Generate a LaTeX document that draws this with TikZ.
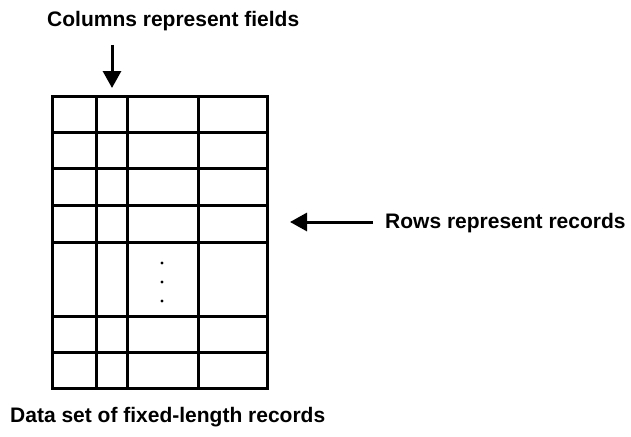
\documentclass[tikz,border=0pt]{standalone}
\usepackage{fontspec}
\setmainfont{Liberation Sans}
\usetikzlibrary{arrows.meta}

\tikzset{
  grid line/.style={line width=3pt},
  pointer/.style={line width=3pt, -{Triangle[length=17pt,width=18pt]}},
  caption/.style={font=\bfseries\fontsize{21}{25}\selectfont, inner sep=0pt, anchor=base west}
}

\begin{document}
\begin{tikzpicture}[x=1pt,y=-1pt]
\useasboundingbox (0,0) rectangle (631,436);

%% table outline and rows
\draw[grid line] (52,96) rectangle (267,388);
\foreach \y in {132,168,205,242,316,352}
  \draw[grid line] (52,\y) -- (267,\y);
%% columns
\foreach \x in {96,127,198}
  \draw[grid line] (\x,96) -- (\x,388);

%% gap between the rows
\foreach \y in {263,282,301}
  \fill (162,\y) circle (1.6pt);

%% labels
\node[caption] (fields) at (47,27) {Columns represent fields};
\node[caption] (records) at (385,228) {Rows represent records};
\node[caption] (dataset) at (10,422) {Data set of fixed-length records};

%%% arrows
\coordinate (col tail) at (112,45);
\coordinate (col tip) at (112,88);
\coordinate (row tail) at (373,222);
\coordinate (row tip) at (290,222);
\draw[pointer] (col tail) -- (col tip);
\draw[pointer] (row tail) -- (row tip);

\end{tikzpicture}
\end{document}
